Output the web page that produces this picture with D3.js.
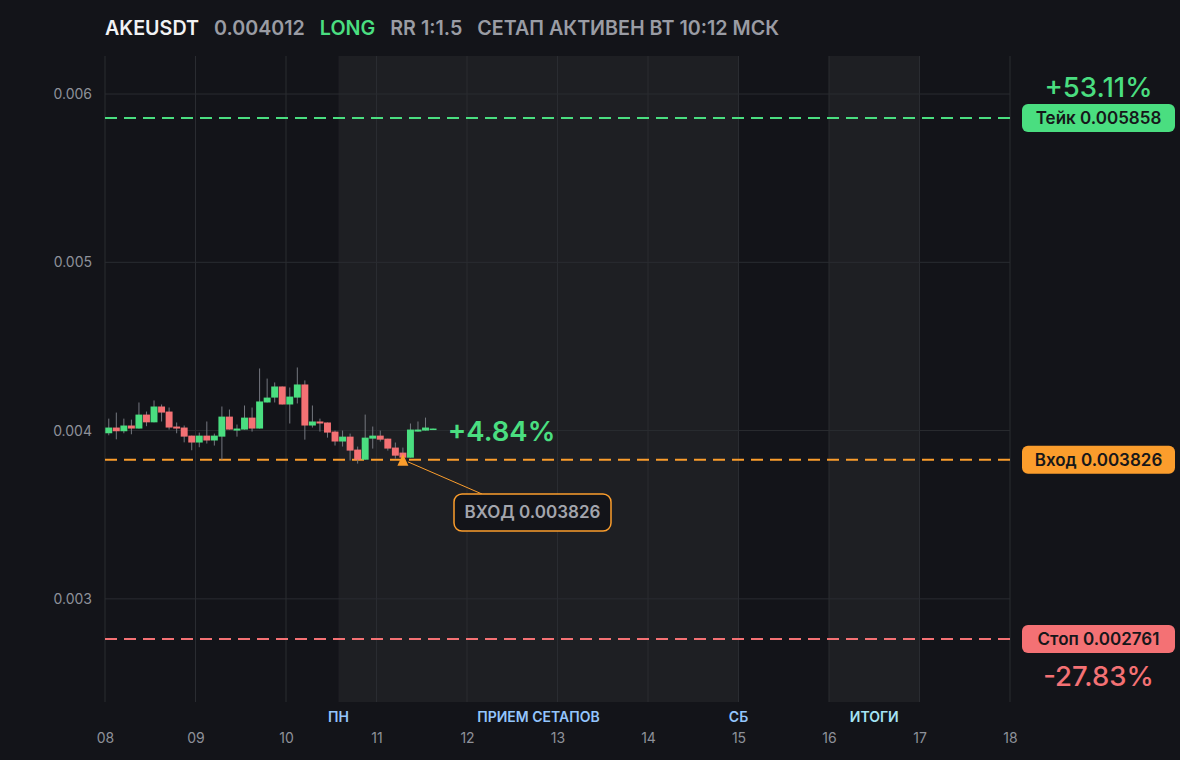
<!DOCTYPE html>
<html>
<head>
<meta charset="utf-8">
<script src="https://cdn.jsdelivr.net/npm/d3@7"></script>
<style>
  html, body { margin: 0; background: #131419; }
  svg { display: block; font-family: Inter, "Noto Sans", sans-serif; }
</style>
</head>
<body>
<svg id="chart" width="1180" height="760"></svg>
<script>
// ── Data ─────────────────────────────────────
const headerTexts  = ["AKEUSDT", "0.004012", "LONG", "RR 1:1.5", "СЕТАП АКТИВЕН ВТ 10:12 МСК"];
const headerColors = ["#f1f2f4", "#9a9ca4", "#4ade80", "#9a9ca4", "#9a9ca4"];

// 2h candles starting on day 08
const candleStart = 8;
const candleStep  = 1 / 12;
const opens  = [0.003984,0.004018,0.003996,0.004030,0.004012,0.004095,0.004049,0.004143,0.004113,0.004024,
                0.004018,0.003970,0.003929,0.003970,0.003941,0.003964,0.004083,0.004000,0.004006,0.004077,
                0.004012,0.004167,0.004196,0.004262,0.004155,0.004196,0.004274,0.004030,0.004054,0.004048,
                0.003994,0.003935,0.003964,0.003887,0.003827,0.003952,0.003970,0.003952,0.003899,0.003869,
                0.003839,0.003994,0.004000,0.004006];
const highs  = [0.004071,0.004107,0.004071,0.004065,0.004167,0.004113,0.004179,0.004155,0.004137,0.004048,
                0.004030,0.003970,0.003988,0.004054,0.003982,0.004143,0.004125,0.004036,0.004149,0.004137,
                0.004369,0.004309,0.004286,0.004262,0.004256,0.004375,0.004298,0.004149,0.004071,0.004048,
                0.004000,0.004000,0.003982,0.003905,0.004095,0.004024,0.004000,0.003952,0.003929,0.003899,
                0.004042,0.004054,0.004077,0.004012];
const lows   = [0.003972,0.003948,0.003984,0.003978,0.004012,0.004026,0.004049,0.004054,0.004006,0.003984,
                0.003930,0.003883,0.003901,0.003923,0.003911,0.003827,0.004006,0.003964,0.004006,0.003994,
                0.004012,0.004167,0.004167,0.004155,0.004042,0.004161,0.003946,0.004018,0.003994,0.003958,
                0.003911,0.003905,0.003822,0.003804,0.003827,0.003893,0.003935,0.003881,0.003833,0.003827,
                0.003839,0.003994,0.004000,0.004006];
const closes = [0.004018,0.003996,0.004030,0.004012,0.004095,0.004049,0.004143,0.004107,0.004018,0.004012,
                0.003964,0.003929,0.003970,0.003941,0.003970,0.004083,0.004006,0.004012,0.004077,0.004012,
                0.004173,0.004196,0.004262,0.004155,0.004202,0.004274,0.004030,0.004054,0.004042,0.003988,
                0.003935,0.003964,0.003881,0.003827,0.003958,0.003970,0.003946,0.003893,0.003851,0.003839,
                0.004006,0.004006,0.004018,0.004012];

// Trade levels
const levelNames  = ["Тейк", "Вход", "Стоп"];
const levelPrices = [0.005858, 0.003826, 0.002761];
const levelColors = ["#4ade80", "#fb9d2c", "#f47174"];
const levelPcts   = ["+53.11%", null, "-27.83%"];

const entryIndex  = 39;
const entryLabel  = "ВХОД 0.003826";
const currentPct  = "+4.84%";

// Sessions (days)
const sessionStarts = [10.58, 16];
const sessionEnds   = [15, 17];
const dayLabelPos   = [10.58, 12.79, 15, 16.5];
const dayLabelText  = ["ПН", "ПРИЕМ СЕТАПОВ", "СБ", "ИТОГИ"];
const dayLabelColor = ["#93c5fd", "#93c5fd", "#93c5fd", "#a5e4f5"];

const xTicks = [8, 9, 10, 11, 12, 13, 14, 15, 16, 17, 18];
const yTicks = [0.003, 0.004, 0.005, 0.006];
const yDomain = [0.002387, 0.006226];

// ── Layout ───────────────────────────────────
const plotL = 105, plotR = 1010, plotT = 56, plotB = 702;
const svg = d3.select("#chart");

const x = d3.scaleLinear().domain([8, 18]).range([plotL, plotR]);
const y = d3.scaleLinear().domain(yDomain).range([plotB, plotT]);

svg.append("rect").attr("width", 1180).attr("height", 760).attr("fill", "#131419");

// ── Sessions ─────────────────────────────────
svg.selectAll(".session")
  .data(sessionStarts)
  .join("rect")
  .attr("x", d => x(d))
  .attr("y", plotT)
  .attr("width", (d, i) => x(sessionEnds[i]) - x(d))
  .attr("height", plotB - plotT)
  .attr("fill", "#1e1f23");

// ── Grid ─────────────────────────────────────
svg.selectAll(".vgrid")
  .data(xTicks)
  .join("line")
  .attr("x1", d => x(d)).attr("x2", d => x(d))
  .attr("y1", plotT).attr("y2", plotB)
  .attr("stroke", "#2a2c31").attr("stroke-width", 1);

svg.selectAll(".hgrid")
  .data(yTicks)
  .join("line")
  .attr("x1", plotL).attr("x2", plotR)
  .attr("y1", d => y(d)).attr("y2", d => y(d))
  .attr("stroke", "#2a2c31").attr("stroke-width", 1);

// ── Axes labels ──────────────────────────────
const yAxis = svg.append("g")
  .attr("transform", `translate(${plotL - 10},0)`)
  .call(d3.axisLeft(y).tickValues(yTicks).tickFormat(d3.format(".3f")).tickSize(0));
yAxis.select(".domain").remove();
yAxis.selectAll("text")
  .attr("fill", "#8e9199").attr("font-size", "14px")
  .attr("font-family", "Inter, sans-serif");

const xAxis = svg.append("g")
  .attr("transform", `translate(0,${plotB + 28})`)
  .call(d3.axisBottom(x).tickValues(xTicks).tickFormat(d => String(d).padStart(2, "0")).tickSize(0));
xAxis.select(".domain").remove();
xAxis.selectAll("text")
  .attr("fill", "#8e9199").attr("font-size", "14px")
  .attr("font-family", "Inter, sans-serif");

svg.selectAll(".daylabel")
  .data(dayLabelPos)
  .join("text")
  .attr("x", d => x(d))
  .attr("y", 722)
  .attr("text-anchor", "middle")
  .attr("fill", (d, i) => dayLabelColor[i])
  .attr("font-size", "14px")
  .attr("font-weight", 600)
  .text((d, i) => dayLabelText[i]);

// ── Level lines ──────────────────────────────
svg.selectAll(".level")
  .data(levelPrices)
  .join("line")
  .attr("x1", plotL).attr("x2", plotR)
  .attr("y1", d => y(d)).attr("y2", d => y(d))
  .attr("stroke", (d, i) => levelColors[i])
  .attr("stroke-width", 2)
  .attr("stroke-dasharray", "12,7");

// ── Candles ──────────────────────────────────
const candles = opens.map((o, i) => ({
  t: candleStart + i * candleStep,
  o, h: highs[i], l: lows[i], c: closes[i]
}));
const bw = (x(candleStart + candleStep) - x(candleStart)) * 0.92;

const cg = svg.append("g");
cg.selectAll(".wick")
  .data(candles)
  .join("line")
  .attr("x1", d => x(d.t + candleStep / 2)).attr("x2", d => x(d.t + candleStep / 2))
  .attr("y1", d => y(d.h)).attr("y2", d => y(d.l))
  .attr("stroke", "#74777f").attr("stroke-width", 1);

cg.selectAll(".body")
  .data(candles)
  .join("rect")
  .attr("x", d => x(d.t + candleStep / 2) - bw / 2)
  .attr("width", bw)
  .attr("y", d => y(Math.max(d.o, d.c)))
  .attr("height", d => Math.max(1.5, Math.abs(y(d.o) - y(d.c))))
  .attr("fill", d => d.c >= d.o ? "#4ade80" : "#f47174");

// current move label
const last = candles[candles.length - 1];
svg.append("text")
  .attr("x", x(last.t + candleStep) + 11)
  .attr("y", y(last.c) + 12)
  .attr("fill", "#4ade80")
  .attr("font-size", "27.5px")
  .attr("font-weight", 600)
  .text(currentPct);

// ── Entry marker ─────────────────────────────
const ex = x(candleStart + entryIndex * candleStep + candleStep / 2);
const ey = y(levelPrices[1]);
const boxX = 454, boxY = 494, boxW = 157, boxH = 37;

svg.append("line")
  .attr("x1", ex + 5).attr("y1", ey + 2)
  .attr("x2", boxX + 28).attr("y2", boxY)
  .attr("stroke", levelColors[1]).attr("stroke-width", 1);

svg.append("path")
  .attr("d", `M${ex},${ey - 6}L${ex + 5.5},${ey + 6}L${ex - 5.5},${ey + 6}Z`)
  .attr("fill", levelColors[1]);

svg.append("rect")
  .attr("x", boxX).attr("y", boxY)
  .attr("width", boxW).attr("height", boxH)
  .attr("rx", 8)
  .attr("fill", "#131419")
  .attr("stroke", levelColors[1]).attr("stroke-width", 1.5);

svg.append("text")
  .attr("x", boxX + boxW / 2).attr("y", boxY + 24)
  .attr("text-anchor", "middle")
  .attr("fill", "#a3a5ad")
  .attr("font-size", "17px")
  .attr("font-weight", 600)
  .text(entryLabel);

// ── Right badges ─────────────────────────────
const badgeX = 1022, badgeW = 153, badgeH = 28;
levelPrices.forEach((p, i) => {
  const cy = y(p);
  svg.append("rect")
    .attr("x", badgeX).attr("y", cy - badgeH / 2)
    .attr("width", badgeW).attr("height", badgeH)
    .attr("rx", 6)
    .attr("fill", levelColors[i]);
  svg.append("text")
    .attr("x", badgeX + badgeW / 2).attr("y", cy + 6)
    .attr("text-anchor", "middle")
    .attr("fill", "#16171a")
    .attr("font-size", "17px")
    .attr("font-weight", 600)
    .text(`${levelNames[i]} ${p.toFixed(6)}`);
  if (levelPcts[i]) {
    const above = i === 0;
    svg.append("text")
      .attr("x", badgeX + badgeW / 2)
      .attr("y", above ? cy - 21 : cy + 47)
      .attr("text-anchor", "middle")
      .attr("fill", levelColors[i])
      .attr("font-size", "27.5px")
      .attr("font-weight", 500)
      .text(levelPcts[i]);
  }
});

// ── Header ───────────────────────────────────
let hx = 105;
headerTexts.forEach((t, i) => {
  const el = svg.append("text")
    .attr("x", hx).attr("y", 35)
    .attr("fill", headerColors[i])
    .attr("font-size", "19.7px")
    .attr("font-weight", 600)
    .text(t);
  hx += el.node().getComputedTextLength() + 15;
});
</script>
</body>
</html>
